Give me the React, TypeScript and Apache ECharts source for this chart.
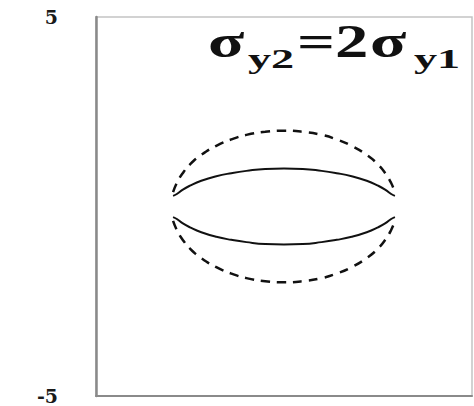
import React, { useEffect, useRef } from "react";
import * as echarts from "echarts";

// Horizontal positions sampled along the contours
const xs = [-2.95, -2.85, -2.7, -2.5, -2.2, -1.8, -1.4, -1, -0.5, 0, 0.5, 1, 1.4, 1.8, 2.2, 2.5, 2.7, 2.85, 2.95];

// Inner contour (solid), upper half and lower half
const innerUpper = [0.28, 0.33, 0.44, 0.55, 0.68, 0.8, 0.88, 0.94, 0.99, 1.0, 0.99, 0.94, 0.88, 0.8, 0.68, 0.55, 0.44, 0.33, 0.28];
const innerLower = [-0.28, -0.33, -0.44, -0.55, -0.68, -0.8, -0.88, -0.94, -0.99, -1.0, -0.99, -0.94, -0.88, -0.8, -0.68, -0.55, -0.44, -0.33, -0.28];

// Outer contour (dashed), upper half and lower half
const outerUpper = [0.38, 0.62, 0.87, 1.11, 1.36, 1.6, 1.77, 1.89, 1.97, 2.0, 1.97, 1.89, 1.77, 1.6, 1.36, 1.11, 0.87, 0.62, 0.38];
const outerLower = [-0.38, -0.62, -0.87, -1.11, -1.36, -1.6, -1.77, -1.89, -1.97, -2.0, -1.97, -1.89, -1.77, -1.6, -1.36, -1.11, -0.87, -0.62, -0.38];

const yMin = -5;
const yMax = 5;
const xMin = -5;
const xMax = 5;

const pair = (ys: number[]) => xs.map((x, i) => [x, ys[i]]);

export default function App() {
  const ref = useRef<HTMLDivElement>(null);

  useEffect(() => {
    document.body.style.margin = "0";
    if (!ref.current) return;
    const chart = echarts.init(ref.current, undefined, { renderer: "svg" });

    const solid = { type: "solid" as const, width: 2, color: "#111" };
    const dashed = { type: [9, 7] as any, width: 2.5, color: "#111" };

    const mkSeries = (ys: number[], lineStyle: any) => ({
      type: "line",
      data: pair(ys),
      smooth: true,
      showSymbol: false,
      symbol: "none",
      lineStyle,
      silent: true,
    });

    const titleFont = "Liberation Serif, Times New Roman, serif";
    const mainText = (text: string, x: number) => ({
      type: "text",
      x,
      y: 41,
      scaleX: 1.45,
      style: {
        text,
        fontFamily: titleFont,
        fontWeight: "bold",
        fontSize: 46,
        fill: "#111",
        verticalAlign: "middle",
      },
    });
    const subText = (text: string, x: number) => ({
      type: "text",
      x,
      y: 58,
      scaleX: 1.65,
      style: {
        text,
        fontFamily: titleFont,
        fontWeight: "bold",
        fontSize: 28,
        fill: "#111",
        verticalAlign: "middle",
      },
    });

    chart.setOption({
      animation: false,
      grid: {
        left: 96,
        top: 17,
        right: 2,
        bottom: 10,
        show: true,
        borderColor: "#c4c4c4",
        borderWidth: 1.5,
        backgroundColor: "#fff",
      },
      xAxis: {
        type: "value",
        min: xMin,
        max: xMax,
        axisLine: { show: true, onZero: false, lineStyle: { color: "#8a8a8a", width: 2 } },
        axisTick: { show: false },
        axisLabel: { show: false },
        splitLine: { show: false },
      },
      yAxis: {
        type: "value",
        min: yMin,
        max: yMax,
        interval: 10,
        axisLine: { show: true, onZero: false, lineStyle: { color: "#8a8a8a", width: 2.5 } },
        axisTick: { show: false },
        splitLine: { show: false },
        axisLabel: {
          show: true,
          margin: 38,
          fontFamily: "DejaVu Serif",
          fontWeight: "bold",
          fontSize: 19,
          lineHeight: 15,
          color: "#1a1a1a",
        },
      },
      graphic: [
        mainText("σ", 208),
        subText("y2", 248),
        mainText("=", 297),
        mainText("2", 335),
        mainText("σ", 370),
        subText("y1", 414),
      ],
      series: [
        mkSeries(innerUpper, solid),
        mkSeries(innerLower, solid),
        mkSeries(outerUpper, dashed),
        mkSeries(outerLower, dashed),
      ],
    });

    return () => chart.dispose();
  }, []);

  return <div ref={ref} style={{ width: 474, height: 406 }} />;
}
